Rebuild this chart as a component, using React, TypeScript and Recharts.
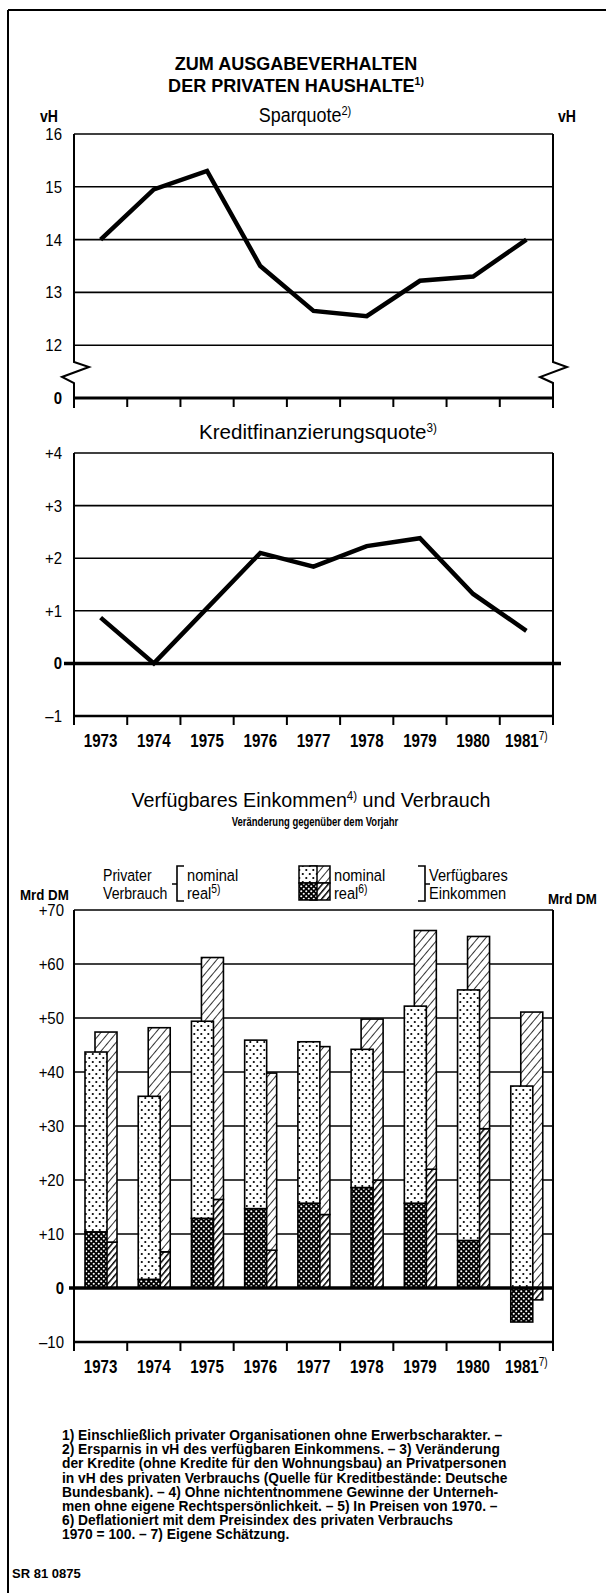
import React from 'react';
import {
  LineChart,
  Line,
  BarChart,
  Bar,
  XAxis,
  YAxis,
  CartesianGrid,
} from 'recharts';

// values
const years = ['1973', '1974', '1975', '1976', '1977', '1978', '1979', '1980', '1981'];
const sparquote = [14.0, 14.95, 15.3, 13.5, 12.65, 12.55, 13.22, 13.3, 14.0];
const kreditquote = [0.87, 0.0, 1.05, 2.1, 1.84, 2.23, 2.38, 1.32, 0.62];
const verbrauchNominal = [43.7, 35.5, 49.4, 45.9, 45.6, 44.2, 52.2, 55.2, 37.4];
const verbrauchReal = [10.4, 1.6, 12.9, 14.7, 15.7, 18.6, 15.7, 8.8, -6.3];
const einkommenNominal = [47.4, 48.2, 61.2, 39.8, 44.7, 49.8, 66.2, 65.1, 51.1];
const einkommenReal = [8.5, 6.7, 16.4, 7.0, 13.6, 20.0, 22.0, 29.5, -2.2];

const sparTicks = [11, 12, 13, 14, 15, 16];
const kreditTicks = [-1, 0, 1, 2, 3, 4];
const mrdTicks = [-10, 0, 10, 20, 30, 40, 50, 60, 70];

const footnotes = [
  '1) Einschließlich privater Organisationen ohne Erwerbscharakter. –',
  '2) Ersparnis in vH des verfügbaren Einkommens. – 3) Veränderung',
  'der Kredite (ohne Kredite für den Wohnungsbau) an Privatpersonen',
  'in vH des privaten Verbrauchs (Quelle für Kreditbestände: Deutsche',
  'Bundesbank). – 4) Ohne nichtentnommene Gewinne der Unterneh-',
  'men ohne eigene Rechtspersönlichkeit. – 5) In Preisen von 1970. –',
  '6) Deflationiert mit dem Preisindex des privaten Verbrauchs',
  '1970 = 100. – 7) Eigene Schätzung.',
];

const sparData = years.map((year, i) => ({ year, value: sparquote[i] }));
const kreditData = years.map((year, i) => ({ year, value: kreditquote[i] }));
const barData = years.map((year, i) => ({
  year,
  vReal: verbrauchReal[i],
  vRest: verbrauchNominal[i] - Math.max(verbrauchReal[i], 0),
  eReal: einkommenReal[i],
  eRest: einkommenNominal[i] - Math.max(einkommenReal[i], 0),
}));

// layout
const W = 606;
const PL = 74;
const PR = 553;
const BW = (PR - PL) / 9;
const T1 = 134, B1 = 398;
const T2 = 453, B2 = 716;
const T3 = 910, B3 = 1342;
const y2 = (v: number) => T2 + ((4 - v) * (B2 - T2)) / 5;
const y3 = (v: number) => T3 + ((70 - v) * (B3 - T3)) / 80;

const SANS = '"Liberation Sans", Arial, sans-serif';

const signed = (v: number) => (v > 0 ? '+' + v : v < 0 ? '–' + Math.abs(v) : '0');

// condensed text: Liberation Sans squeezed horizontally
const CT = ({ x, y, sx = 0.85, size = 17, weight = 'normal', anchor = 'start', family = SANS, children }: any) => (
  <text
    transform={`translate(${x},${y}) scale(${sx},1)`}
    textAnchor={anchor}
    fontFamily={family}
    fontSize={size}
    fontWeight={weight}
    fill="#000"
  >
    {children}
  </text>
);

const YTick = (props: any) => {
  const { x, y, payload, textAnchor, fmt } = props;
  const s = fmt(payload.value);
  return (
    <CT x={x} y={y + 6} anchor={textAnchor} sx={0.88} size={17} weight={s === '0' ? 'bold' : 'normal'}>
      {s}
    </CT>
  );
};

const YearTick = (props: any) => {
  const { x, y, payload, index, label } = props;
  return (
    <g>
      <line x1={x - BW / 2} x2={x - BW / 2} y1={y} y2={y + 9} stroke="#000" strokeWidth={2} />
      {index === 8 && (
        <line x1={x + BW / 2} x2={x + BW / 2} y1={y} y2={y + 9} stroke="#000" strokeWidth={2} />
      )}
      {label && (
        <CT x={x} y={y + 31} anchor="middle" sx={0.84} size={18} weight="bold">
          {payload.value}
          {index === 8 && (
            <tspan fontSize={12} dy={-7} fontWeight="normal">
              7)
            </tspan>
          )}
        </CT>
      )}
    </g>
  );
};

const shifted = (dx: number) => (p: any) => {
  const h = Math.abs(p.height || 0);
  if (!h) return <g />;
  const y = p.height < 0 ? p.y + p.height : p.y;
  return (
    <rect
      x={p.x + dx}
      y={y}
      width={p.width}
      height={h}
      fill={p.fill}
      stroke="#000"
      strokeWidth={1.6}
    />
  );
};

function Sparquote() {
  const fmt = (v: number) => (v === 11 ? '0' : String(v));
  return (
    <div style={{ position: 'absolute', left: 0, top: T1 - 10 }}>
      <LineChart
        width={W}
        height={B1 - T1 + 10 + 30}
        data={sparData}
        margin={{ top: 10, right: 0, bottom: 0, left: 0 }}
      >
        <CartesianGrid vertical={false} stroke="#000" strokeWidth={1.6} />
        <XAxis
          dataKey="year"
          scale="band"
          height={30}
          interval={0}
          tickSize={0}
          tickMargin={0}
          tickLine={false}
          axisLine={{ stroke: '#000', strokeWidth: 3 }}
          tick={<YearTick />}
        />
        <YAxis
          domain={[11, 16]}
          ticks={sparTicks}
          width={PL}
          axisLine={false}
          tickLine={false}
          tickSize={0}
          tickMargin={12}
          tick={<YTick fmt={fmt} />}
        />
        <YAxis
          yAxisId="r"
          orientation="right"
          domain={[11, 16]}
          ticks={sparTicks}
          width={W - PR}
          axisLine={false}
          tickLine={false}
          tickSize={0}
          tickMargin={9}
          tick={<YTick fmt={fmt} />}
        />
        <Line
          dataKey="value"
          stroke="#000"
          strokeWidth={4.5}
          dot={false}
          isAnimationActive={false}
        />
      </LineChart>
    </div>
  );
}

function Kreditquote() {
  return (
    <div style={{ position: 'absolute', left: 0, top: T2 - 10 }}>
      <LineChart
        width={W}
        height={B2 - T2 + 10 + 40}
        data={kreditData}
        margin={{ top: 10, right: 0, bottom: 0, left: 0 }}
      >
        <CartesianGrid vertical={false} stroke="#000" strokeWidth={1.6} />
        <XAxis
          dataKey="year"
          scale="band"
          height={40}
          interval={0}
          tickSize={0}
          tickMargin={0}
          tickLine={false}
          axisLine={{ stroke: '#000', strokeWidth: 2.5 }}
          tick={<YearTick label />}
        />
        <YAxis
          domain={[-1, 4]}
          ticks={kreditTicks}
          width={PL}
          axisLine={{ stroke: '#000', strokeWidth: 2 }}
          tickLine={false}
          tickSize={0}
          tickMargin={12}
          tick={<YTick fmt={signed} />}
        />
        <YAxis
          yAxisId="r"
          orientation="right"
          domain={[-1, 4]}
          ticks={kreditTicks}
          width={W - PR}
          axisLine={{ stroke: '#000', strokeWidth: 2 }}
          tickLine={false}
          tickSize={0}
          tickMargin={9}
          tick={<YTick fmt={signed} />}
        />
        <Line
          dataKey="value"
          stroke="#000"
          strokeWidth={4.5}
          dot={false}
          isAnimationActive={false}
        />
      </LineChart>
    </div>
  );
}

function EinkommenVerbrauch() {
  return (
    <div style={{ position: 'absolute', left: 0, top: T3 - 10 }}>
      <BarChart
        width={W}
        height={B3 - T3 + 10 + 40}
        data={barData}
        stackOffset="sign"
        margin={{ top: 10, right: 0, bottom: 0, left: 0 }}
      >
        <CartesianGrid vertical={false} stroke="#000" strokeWidth={1.6} />
        <XAxis
          xAxisId="v"
          dataKey="year"
          height={40}
          interval={0}
          tickSize={0}
          tickMargin={0}
          tickLine={false}
          axisLine={{ stroke: '#000', strokeWidth: 2.5 }}
          tick={<YearTick label />}
        />
        <XAxis xAxisId="e" dataKey="year" hide height={0} />
        <YAxis
          domain={[-10, 70]}
          ticks={mrdTicks}
          width={PL}
          axisLine={{ stroke: '#000', strokeWidth: 2 }}
          tickLine={false}
          tickSize={0}
          tickMargin={10}
          tick={<YTick fmt={signed} />}
        />
        <YAxis
          yAxisId="r"
          orientation="right"
          domain={[-10, 70]}
          ticks={mrdTicks}
          width={W - PR}
          axisLine={{ stroke: '#000', strokeWidth: 2 }}
          tickLine={false}
          tickSize={0}
          tickMargin={8}
          tick={<YTick fmt={signed} />}
        />
        <Bar xAxisId="e" stackId="e" dataKey="eReal" barSize={22} fill="url(#hatchDark)" shape={shifted(5)} isAnimationActive={false} />
        <Bar xAxisId="e" stackId="e" dataKey="eRest" barSize={22} fill="url(#hatch)" shape={shifted(5)} isAnimationActive={false} />
        <Bar xAxisId="v" stackId="v" dataKey="vReal" barSize={22} fill="url(#checks)" shape={shifted(-5)} isAnimationActive={false} />
        <Bar xAxisId="v" stackId="v" dataKey="vRest" barSize={22} fill="url(#dots)" shape={shifted(-5)} isAnimationActive={false} />
      </BarChart>
    </div>
  );
}

function Overlay() {
  const sup = (s: string, dy = -7) => (
    <tspan fontSize={12} dy={dy}>
      {s}
    </tspan>
  );
  return (
    <svg
      width={W}
      height={1593}
      style={{ position: 'absolute', left: 0, top: 0, pointerEvents: 'none' }}
    >
      <defs>
        <pattern id="dots" width="7" height="8" patternUnits="userSpaceOnUse">
          <rect width="7" height="8" fill="#fff" />
          <circle cx="1.8" cy="2" r="1.1" fill="#000" />
          <circle cx="5.3" cy="6" r="1.1" fill="#000" />
        </pattern>
        <pattern id="checks" width="5" height="5" patternUnits="userSpaceOnUse">
          <rect width="5" height="5" fill="#000" />
          <circle cx="1.25" cy="1.25" r="1.05" fill="#fff" />
          <circle cx="3.75" cy="3.75" r="1.05" fill="#fff" />
        </pattern>
        <pattern id="hatch" width="6" height="6" patternUnits="userSpaceOnUse" patternTransform="rotate(40)">
          <rect width="6" height="6" fill="#fff" />
          <line x1="0" y1="0" x2="0" y2="6" stroke="#000" strokeWidth="1.6" />
        </pattern>
        <pattern id="hatchDark" width="4.5" height="4.5" patternUnits="userSpaceOnUse" patternTransform="rotate(40)">
          <rect width="4.5" height="4.5" fill="#fff" />
          <line x1="0" y1="0" x2="0" y2="4.5" stroke="#000" strokeWidth="3" />
        </pattern>
      </defs>

      {/* page frame */}
      <line x1={8} x2={W} y1={10} y2={10} stroke="#000" strokeWidth={2} />
      <line x1={8} x2={8} y1={10} y2={1593} stroke="#000" strokeWidth={2} />

      {/* headline */}
      <CT x={296} y={70} anchor="middle" sx={0.95} size={19} weight="bold">
        ZUM AUSGABEVERHALTEN
      </CT>
      <CT x={296} y={92} anchor="middle" sx={0.95} size={19} weight="bold">
        DER PRIVATEN HAUSHALTE
        <tspan fontSize={11} dy={-7}>1)</tspan>
      </CT>

      {/* Sparquote */}
      <CT x={305} y={122} anchor="middle" sx={0.92} size={19.5}>
        Sparquote{sup('2)')}
      </CT>
      <CT x={49} y={122} anchor="middle" sx={0.88} size={16} weight="bold">vH</CT>
      <CT x={567} y={122} anchor="middle" sx={0.88} size={16} weight="bold">vH</CT>
      <path
        d={`M${PL} ${T1} V362 L${PL + 15} 367 L${PL - 12} 377 L${PL} 383 V${B1 + 10}`}
        fill="none"
        stroke="#000"
        strokeWidth={2}
      />
      <path
        d={`M${PR} ${T1} V362 L${PR + 14} 367 L${PR - 13} 377 L${PR} 383 V${B1 + 10}`}
        fill="none"
        stroke="#000"
        strokeWidth={2}
      />

      {/* Kreditfinanzierungsquote */}
      <CT x={318} y={439} anchor="middle" sx={0.98} size={21}>
        Kreditfinanzierungsquote{sup('3)')}
      </CT>
      <line x1={64} x2={561} y1={y2(0)} y2={y2(0)} stroke="#000" strokeWidth={3.5} />

      {/* Einkommen und Verbrauch */}
      <CT x={311} y={807} anchor="middle" sx={0.96} size={20.5}>
        Verfügbares Einkommen{sup('4)')}
        <tspan dy={7}> und Verbrauch</tspan>
      </CT>
      <CT x={315} y={826} anchor="middle" sx={0.76} size={12.5} weight="bold">
        Veränderung gegenüber dem Vorjahr
      </CT>

      <CT x={103} y={881} sx={0.83}>Privater</CT>
      <CT x={103} y={899} sx={0.83}>Verbrauch</CT>
      <path d="M184 866 H177 V901 H184 M177 884 H172" fill="none" stroke="#000" strokeWidth={1.6} />
      <CT x={187} y={881} sx={0.86}>nominal</CT>
      <CT x={187} y={899} sx={0.86}>
        real{sup('5)', -6)}
      </CT>
      <rect x={310} y={866} width={20} height={17} fill="url(#hatch)" stroke="#000" strokeWidth={1.5} />
      <rect x={310} y={883} width={20} height={17} fill="url(#hatchDark)" stroke="#000" strokeWidth={1.5} />
      <rect x={299} y={866} width={18} height={17} fill="url(#dots)" stroke="#000" strokeWidth={1.5} />
      <rect x={299} y={883} width={18} height={17} fill="url(#checks)" stroke="#000" strokeWidth={1.5} />
      <CT x={334} y={881} sx={0.86}>nominal</CT>
      <CT x={334} y={899} sx={0.86}>
        real{sup('6)', -6)}
      </CT>
      <path d="M418 866 H425 V901 H418 M425 884 H430" fill="none" stroke="#000" strokeWidth={1.6} />
      <CT x={429} y={881} sx={0.86}>Verfügbares</CT>
      <CT x={429} y={899} sx={0.86}>Einkommen</CT>
      <CT x={20} y={900} sx={0.86} size={15.5} weight="bold">Mrd DM</CT>
      <CT x={548} y={904} sx={0.86} size={15.5} weight="bold">Mrd DM</CT>
      <line x1={69} x2={PR} y1={y3(0)} y2={y3(0)} stroke="#000" strokeWidth={3.5} />

      {/* footnotes */}
      {footnotes.map((line, i) => (
        <text key={i} x={62} y={1440 + i * 14.2} fontFamily={SANS} fontWeight="bold" fontSize={13.8}>
          {line}
        </text>
      ))}
      <text x={12} y={1578} fontFamily={SANS} fontWeight="bold" fontSize={13}>
        SR 81 0875
      </text>
    </svg>
  );
}

export default function App() {
  return (
    <div style={{ position: 'absolute', left: 0, top: 0, width: W, height: 1593, background: '#fff' }}>
      <Sparquote />
      <Kreditquote />
      <EinkommenVerbrauch />
      <Overlay />
    </div>
  );
}
